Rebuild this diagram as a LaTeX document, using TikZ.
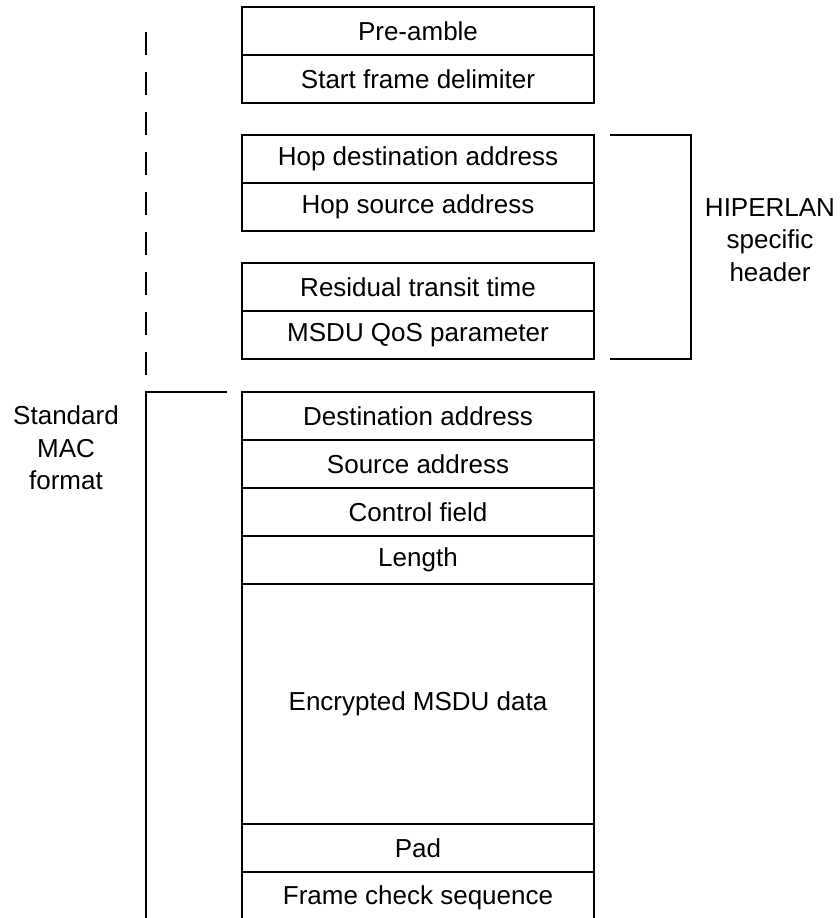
\documentclass[tikz,border=0pt]{standalone}
\usepackage{fontspec}
\setmainfont{Liberation Sans}
\usetikzlibrary{positioning}

\begin{document}
\begin{tikzpicture}[x=1pt, y=-1pt, line width=2pt,
  font=\fontsize{26}{32.5}\selectfont,
  field/.style={draw, rectangle, minimum width=352pt, minimum height=48pt,
    inner sep=0pt, outer sep=0pt},
  note/.style={align=center, inner sep=0pt},
]
  \useasboundingbox (0,0) rectangle (839,918);
  % physical header
  \node[field, anchor=north west] (pre) at (242,7) {Pre-amble};
  \node[field, below=0pt of pre] (sfd) {Start frame delimiter};
  % HIPERLAN header fields
  \node[field, anchor=north west] (hopdst) at (242,135) {Hop destination address};
  \node[field, below=0pt of hopdst] (hopsrc) {Hop source address};
  \node[field, anchor=north west] (rtt) at (242,263) {Residual transit time};
  \node[field, below=0pt of rtt] (qos) {MSDU QoS parameter};
  % standard MAC fields
  \node[field, anchor=north west] (dst) at (242,392) {Destination address};
  \node[field, below=0pt of dst] (src) {Source address};
  \node[field, below=0pt of src] (ctrl) {Control field};
  \node[field, below=0pt of ctrl] (len) {Length};
  \node[field, below=0pt of len, minimum height=240pt] (data) {Encrypted MSDU data};
  \node[field, below=0pt of data] (pad) {Pad};
  \node[field, below=0pt of pad, minimum height=52pt] (fcs) {Frame check sequence};
  % brackets
  \coordinate (hl1) at (610,135);
  \coordinate (hl2) at (691,135);
  \coordinate (hl3) at (691,359);
  \coordinate (hl4) at (610,359);
  \draw (hl1) -- (hl2) -- (hl3) -- (hl4);
  \coordinate (mac1) at (227,392);
  \coordinate (mac2) at (146,392);
  \coordinate (mac3) at (146,925);
  \draw (mac1) -- (mac2) -- (mac3);
  \coordinate (dl1) at (146,32);
  \coordinate (dl2) at (146,375);
  \draw[line width=1.3pt, dash pattern=on 23pt off 17pt] (dl1) -- (dl2);
  \node[note] (hiper) at (770,240) {HIPERLAN\\specific\\header};
  \node[note] (stdmac) at (66,448) {Standard\\MAC\\format};
\end{tikzpicture}
\end{document}
